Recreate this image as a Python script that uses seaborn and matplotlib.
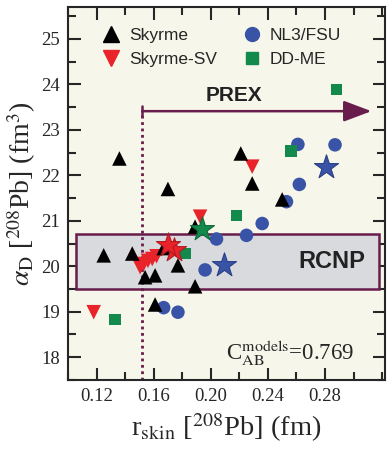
import matplotlib
matplotlib.use('Agg')
import numpy as np
import pandas as pd
import matplotlib.pyplot as plt
import matplotlib.patches as mpatches
from matplotlib.lines import Line2D
from matplotlib.ticker import MultipleLocator
import seaborn as sns

# ── data ──
skyrme_x = [0.136, 0.170, 0.221, 0.229, 0.250, 0.189, 0.125, 0.145, 0.167,
            0.177, 0.154, 0.161, 0.189, 0.161]
skyrme_y = [22.37, 21.70, 22.48, 21.82, 21.47, 20.87, 20.24, 20.28, 20.40,
            20.02, 19.76, 19.80, 19.56, 19.16]

sv_x = [0.118, 0.1505, 0.153, 0.156, 0.159, 0.162, 0.1925, 0.229]
sv_y = [18.99, 19.98, 20.05, 20.12, 20.16, 20.22, 21.09, 22.19]
sv_star_x = [0.174, 0.170]
sv_star_y = [20.35, 20.46]

nl3_x = [0.167, 0.177, 0.196, 0.204, 0.225, 0.236, 0.253, 0.262, 0.261, 0.287]
nl3_y = [19.09, 18.99, 19.92, 20.60, 20.68, 20.94, 21.42, 21.80, 22.68, 22.67]
nl3_star_x = [0.209, 0.281]
nl3_star_y = [20.02, 22.19]

ddme_x = [0.133, 0.182, 0.218, 0.256, 0.288]
ddme_y = [18.83, 20.28, 21.12, 22.54, 23.89]
ddme_star_x = [0.194]
ddme_star_y = [20.83]

prex_skin = 0.152          # PREX lower bound on r_skin
prex_arrow_y = 23.41
rcnp_alpha, rcnp_err = 20.1, 0.6
corr_text = r'C$_{\rm AB}^{\rm models}$=0.769'

BLACK = '#000000'
RED = '#e8232a'
BLUE = '#3953a6'
GREEN = '#13894b'
PURPLE = '#681c4c'
BG = '#f6f7ea'

sns.set_style('ticks')
plt.rcParams['font.family'] = ['Liberation Serif', 'DejaVu Serif']
plt.rcParams['mathtext.fontset'] = 'stix'

fig = plt.figure(figsize=(3.89, 4.5), dpi=100)
ax = fig.add_axes([0.1748, 0.1556, 0.8149, 0.8288])
ax.set_facecolor(BG)

# RCNP band
rect = mpatches.Rectangle((0.1055, rcnp_alpha - rcnp_err), 0.318 - 0.1055, 2 * rcnp_err,
                          facecolor='#d9dadd', edgecolor=PURPLE, linewidth=1.8, zorder=1)
ax.add_patch(rect)

# PREX bound
ax.plot([prex_skin, prex_skin], [17.5, prex_arrow_y], color=PURPLE,
        linestyle=(0, (1, 1.3)), linewidth=2, zorder=1.5)
ax.plot([prex_skin, prex_skin], [prex_arrow_y - 0.11, prex_arrow_y + 0.11],
        color=PURPLE, linewidth=1.8, zorder=1.5)
ax.annotate('', xy=(0.3125, prex_arrow_y), xytext=(prex_skin, prex_arrow_y),
            arrowprops=dict(arrowstyle='-|>,head_length=0.85,head_width=0.32',
                            color=PURPLE, lw=1.8, mutation_scale=20,
                            shrinkA=0, shrinkB=0), zorder=1.5)

sns.scatterplot(x=nl3_x, y=nl3_y, ax=ax, marker='o', s=95, color=BLUE,
                edgecolor='none', legend=False, zorder=3)
sns.scatterplot(x=ddme_x, y=ddme_y, ax=ax, marker='s', s=70, color=GREEN,
                edgecolor='none', legend=False, zorder=3)
sns.scatterplot(x=sv_x, y=sv_y, ax=ax, marker='v', s=110, color=RED,
                edgecolor='none', legend=False, zorder=4)
sns.scatterplot(x=skyrme_x, y=skyrme_y, ax=ax, marker='^', s=110, color=BLACK,
                edgecolor='none', legend=False, zorder=4)

# stars
sns.scatterplot(x=sv_star_x, y=sv_star_y, ax=ax, marker='*', s=330, color=RED,
                edgecolor='#b01a1f', linewidth=0.8, legend=False, zorder=5)
sns.scatterplot(x=ddme_star_x, y=ddme_star_y, ax=ax, marker='*', s=330, color=GREEN,
                edgecolor='#0d6b38', linewidth=0.8, legend=False, zorder=5)
sns.scatterplot(x=nl3_star_x, y=nl3_star_y, ax=ax, marker='*', s=330, color=BLUE,
                edgecolor='#2a3f85', linewidth=0.8, legend=False, zorder=5)

handles = [
    Line2D([], [], marker='^', color=BLACK, ls='none', markersize=11, label='Skyrme'),
    Line2D([], [], marker='v', color=RED, ls='none', markersize=11, label='Skyrme-SV'),
    Line2D([], [], marker='o', color=BLUE, ls='none', markersize=10, label='NL3/FSU'),
    Line2D([], [], marker='s', color=GREEN, ls='none', markersize=8, label='DD-ME'),
]
ax.legend(handles=handles, ncol=2, loc='upper left', bbox_to_anchor=(0.055, 0.985),
          frameon=False, handletextpad=0.4, columnspacing=1.45, labelspacing=0.5,
          handlelength=1.2, prop={'family': 'Liberation Sans', 'size': 12.5})

ax.text(0.216, 23.76, 'PREX', family='Liberation Sans', fontweight='bold',
        fontsize=15, color='#222222', ha='center', va='center')
ax.text(0.285, 20.1, 'RCNP', family='Liberation Sans', fontweight='bold',
        fontsize=17, color='#222222', ha='center', va='center', zorder=2)
ax.text(0.2555, 17.93, corr_text, fontsize=16.5, ha='center', va='baseline')

ax.set_xlim(0.10, 0.322)
ax.set_ylim(17.5, 25.7)
ax.xaxis.set_major_locator(MultipleLocator(0.04))
ax.xaxis.set_minor_locator(MultipleLocator(0.02))
ax.yaxis.set_major_locator(MultipleLocator(1))
ax.yaxis.set_minor_locator(MultipleLocator(0.5))
ax.set_xticks([0.12, 0.16, 0.20, 0.24, 0.28])
ax.set_xticklabels(['0.12', '0.16', '0.20', '0.24', '0.28'])
ax.tick_params(which='both', direction='in', top=True, right=True, width=1.5,
               labelsize=13.5, pad=6)
ax.tick_params(which='major', length=9)
ax.tick_params(which='minor', length=5.5)
for sp in ax.spines.values():
    sp.set_linewidth(1.5)

ax.set_xlabel(r'r$_{\rm skin}$ [$^{208}$Pb] (fm)', fontsize=20.5, labelpad=4)
ax.set_ylabel(r'$\alpha_{\rm D}$ [$^{208}$Pb] (fm$^3$)', fontsize=20, labelpad=2)

fig.savefig('out.png', dpi=100)
